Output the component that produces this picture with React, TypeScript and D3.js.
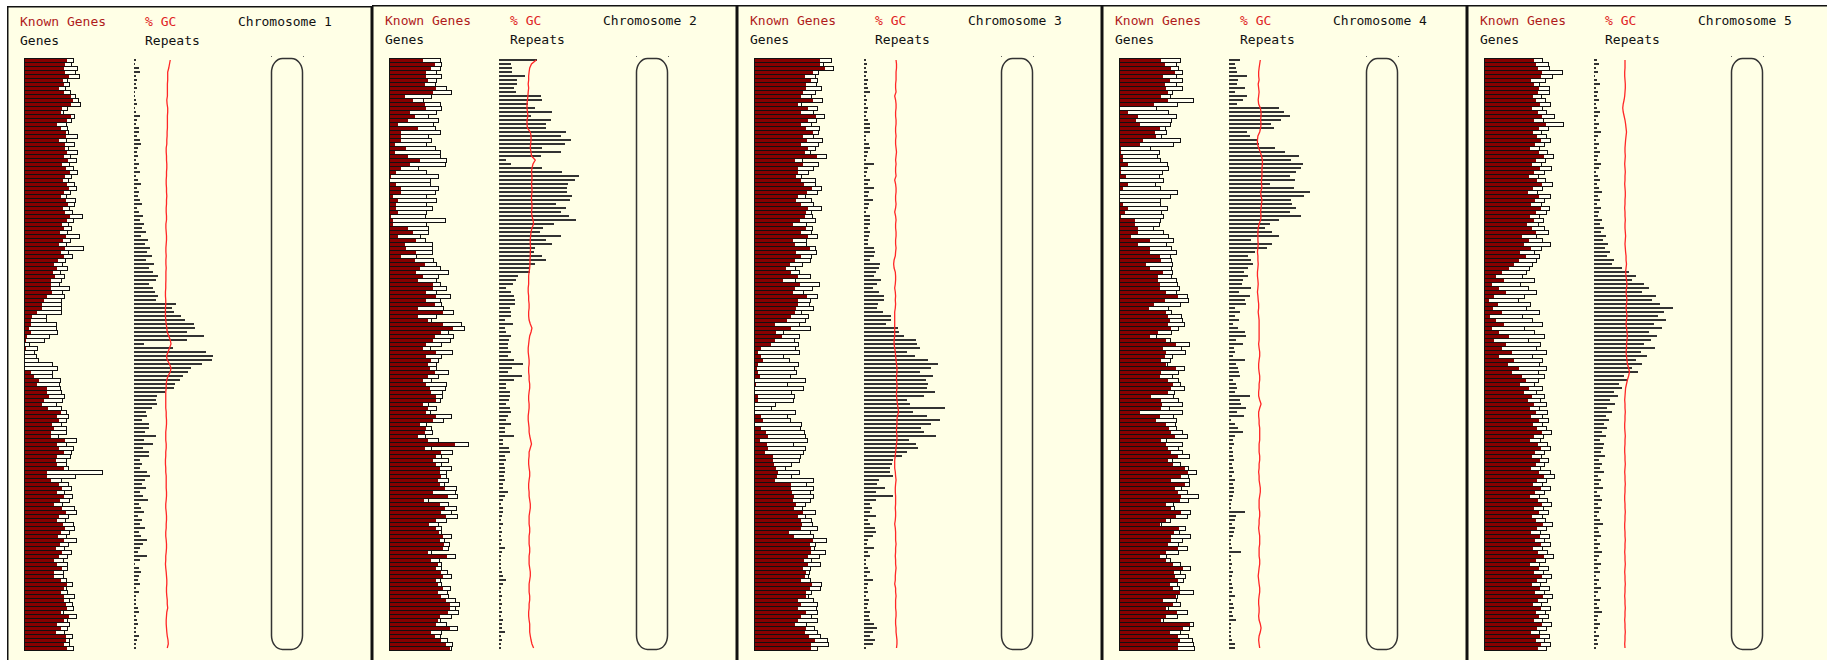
import React from 'react';
import * as d3 from 'd3';

// chromosome names
const chromosomes = ['Chromosome 1', 'Chromosome 2', 'Chromosome 3', 'Chromosome 4', 'Chromosome 5'];

// known genes per bin (red part) / all genes per bin (whole bar)
const known1 = [43,41,40,41,45,39,40,35,40,47,49,47,38,37,47,43,33,37,42,42,35,41,41,43,
  40,44,38,42,46,41,39,43,45,40,37,42,44,39,41,46,43,38,40,36,42,39,35,41,37,40,34,30,33,29,31,27,
  27,27,28,23,20,18,18,13,8,7,7,5,7,3,2,0,2,1,1,1,1,1,7,10,15,13,23,23,25,20,18,24,37,33,35,28,30,27,27,41,33,35,40,33,32,33,40,23,23,27,
  35,38,33,40,36,30,38,42,35,33,39,41,37,34,40,36,32,38,35,30,
  33,38,30,30,37,43,40,37,40,40,42,43,37,45,40,33,37,32,42,42,40,43];
const genes1 = [49,47,53,51,55,43,45,41,46,51,54,56,43,39,50,47,42,43,44,53,42,50,44,53,
  46,52,45,49,53,47,44,50,52,46,42,51,50,45,48,58,49,44,47,43,55,46,42,59,44,48,41,38,43,36,40,37,
  35,45,38,40,37,37,37,37,22,22,32,32,33,25,20,5,13,10,12,14,28,33,28,28,36,35,36,37,40,38,32,37,42,44,42,37,42,42,34,52,42,49,47,46,42,42,44,78,51,37,
  44,47,40,48,45,38,50,52,44,41,49,50,45,42,52,44,40,47,43,39,
  43,43,39,39,42,48,42,43,50,45,48,49,39,52,43,45,43,40,48,45,45,49];
const repeats1 = [2,1,5,6,2,3,2,3,1,1,2,3,1,2,6,3,2,5,5,3,6,7,4,3,
  4,2,5,3,6,2,4,7,3,5,4,6,8,3,5,9,6,10,8,12,7,14,11,16,13,18,12,20,15,19,24,22,
  15,19,21,24,22,42,38,40,47,51,60,61,53,70,53,10,39,72,79,78,68,57,54,49,46,41,40,31,23,22,23,18,12,13,8,15,15,11,22,10,19,9,15,15,6,8,6,13,16,11,
  8,12,6,9,14,5,7,10,4,8,6,11,5,7,13,9,6,4,13,6,
  1,5,7,5,4,6,2,5,2,2,2,4,5,2,3,4,2,2,5,3,2,2];
const gc1 = [43.5,43,42.5,41.8,41.8,41.8,41.6,41.6,41.6,41.6,41.2,41.4,41.8,41.8,41.6,41.6,41.6,41.6,41.4,41.4,41.2,41.2,40.8,40.8,
  41,41,41.2,41.2,41,41,40.8,40.8,41,41,41.2,41,41,40.8,40.8,41,41,40.6,40.6,40.8,41,41,40.8,40.6,40.6,40.8,40.6,40.6,40.8,40.6,40.6,40.6,
  40.5,40.5,40.3,40.3,40.5,40.5,40.3,40.3,40.3,40.5,40.8,41.2,41.5,42.5,43.5,44,43,42,41,41.5,43,44,43.5,42,41.2,40.8,40.8,40.5,40.5,40.5,40.5,40.5,40.8,40.8,41,41,40.8,40.5,40.5,40.5,40.8,40.8,40.5,40.5,40.3,40.3,40.5,40.5,40.8,40.8,
  40.8,40.8,41,41,40.8,40.5,40.5,40.8,41,41,40.8,40.8,40.5,40.5,40.8,41,41,40.8,40.5,40.5,
  40.3,40.5,40.8,41,41.2,41.2,41,41,41.2,41.5,41.5,41.8,41.2,41,40.8,40.8,41,41.2,41.5,42,42.2,41.5];

const known2 = [34,46,42,37,37,39,36,47,44,16,24,36,37,21,26,19,9,29,12,12,12,6,17,6,19,31,21,12,7,2,
  1,7,12,12,4,9,7,7,9,2,4,4,19,24,9,27,16,17,27,12,26,36,31,27,34,29,44,44,37,47,
  37,46,29,54,29,39,54,64,52,46,44,37,34,47,37,42,39,41,46,39,34,37,41,42,47,47,34,39,37,47,
  44,31,37,36,29,39,66,36,52,47,44,47,51,51,52,49,51,56,44,59,35,51,56,52,57,47,40,47,50,54,
  51,55,54,39,58,42,49,47,52,54,47,49,54,49,52,57,61,61,59,51,49,47,61,42,46,52,57,61];
const genes2 = [51,52,51,47,52,47,46,57,62,42,34,51,52,47,39,49,44,46,51,39,42,37,46,51,51,57,56,29,37,49,
  41,41,49,46,37,47,37,43,37,36,56,37,39,39,31,36,43,43,43,27,44,47,51,59,49,47,51,57,47,61,
  51,52,54,64,47,42,72,75,59,64,61,52,41,63,52,49,47,47,59,49,42,57,56,53,53,51,39,47,41,62,
  54,37,42,43,36,49,79,42,63,52,59,52,62,57,57,59,55,67,66,68,39,59,67,62,68,57,49,52,52,62,
  55,60,59,42,66,50,52,52,58,62,51,52,61,58,59,66,70,66,69,62,51,57,68,52,51,58,63,62];
const repeats2 = [38,12,13,13,26,18,18,15,17,42,43,29,36,53,32,52,47,47,67,62,72,66,43,62,42,7,12,43,63,80,
  76,69,68,68,73,71,57,67,62,70,77,55,44,41,62,47,53,36,35,43,47,36,31,31,19,17,14,7,12,15,
  16,16,11,12,12,6,14,6,7,12,10,9,9,12,9,15,24,13,9,23,15,7,7,11,11,10,7,11,12,9,
  7,12,6,6,15,4,4,10,11,6,7,5,6,6,5,6,4,4,9,6,4,2,4,4,3,2,4,2,3,2,
  3,2,6,3,2,2,2,2,3,4,7,4,2,2,3,2,3,2,3,2,4,3,3,6,2,3,2,2];
const gc2 = [44.2,41,39.8,39.4,39.1,39.1,38.8,39.1,38.8,38.6,38.3,38,38,38.3,38.6,38,38,38.3,40.2,40.7,
  40.7,40.4,40.2,40.7,41,43.5,42,41.3,41,41.3,41.3,41,41.3,41.3,41,41,41.3,41.3,41,41.3,
  42,42.4,41.3,40.7,40.4,40.2,40.2,40.4,40.2,40.2,40,40,39.8,39.4,39.1,39.1,39.1,38.8,38.8,39.1,
  39.1,39.4,39.4,39.1,39.1,39.4,40.2,41.3,40.7,39.8,39.4,39.1,38.8,38.8,39.1,39.4,39.4,39.1,39.1,39.4,
  39.4,39.8,39.8,39.4,39.1,39.1,39.4,39.4,39.1,38.8,38.8,39.1,39.4,39.4,39.8,40.4,41,40.2,39.4,39.4,
  39.1,39.1,39.4,39.8,39.8,39.4,39.1,39.1,39.4,39.4,39.8,40.2,40.2,39.8,39.4,39.4,39.4,39.8,39.8,39.4,
  39.4,39.4,39.8,39.8,39.4,39.4,39.4,39.8,40.2,40.2,39.8,39.4,39.4,39.4,39.8,39.8,39.4,39.4,39.1,39.1,
  39.4,39.8,39.8,39.8,40.2,40.7,41.3,42.4];

const known3 = [66,66,71,59,51,57,52,52,49,47,59,44,54,47,62,54,47,52,59,49,53,47,54,51,63,41,49,44,44,42,
  47,50,58,53,44,42,47,54,52,51,46,39,52,47,54,39,41,56,42,47,41,36,32,37,44,29,46,41,39,53,
  44,44,42,41,37,33,21,37,22,28,21,17,7,4,7,9,4,3,4,6,1,2,1,0,4,4,0,0,0,7,
  9,1,7,12,14,6,13,14,11,19,19,20,22,24,23,21,37,37,38,40,39,42,40,49,44,47,48,47,35,40,
  59,56,57,57,54,50,54,49,52,51,47,58,56,52,52,44,47,44,52,47,44,41,52,51,55,61,57,57];
const genes3 = [77,69,79,64,61,63,62,67,61,57,68,47,63,59,70,62,57,65,64,59,68,64,61,56,72,48,64,59,54,47,
  61,61,67,63,51,57,59,67,57,58,61,52,58,57,63,52,52,61,62,57,56,48,41,45,56,41,65,58,49,63,
  56,55,59,47,54,51,45,56,29,45,40,44,41,45,29,35,44,40,42,36,51,33,49,37,40,39,21,17,41,33,
  36,47,46,50,51,53,39,51,49,46,45,37,31,45,37,59,52,59,56,59,56,51,48,61,51,57,58,63,56,59,
  72,61,60,71,65,57,66,56,55,54,56,67,66,57,54,59,63,62,63,57,63,52,60,63,66,73,74,63];
const repeats3 = [2,3,2,3,2,4,3,4,6,2,3,2,4,3,2,4,6,6,6,2,2,5,6,4,3,2,10,4,3,2,
  6,4,10,5,4,9,5,4,2,6,6,6,4,6,5,4,4,10,11,10,6,16,15,12,10,17,13,9,15,20,
  20,14,13,19,27,27,22,34,35,40,52,53,56,43,51,64,74,67,56,69,62,64,63,71,60,43,46,81,49,63,
  76,67,57,60,72,45,52,54,43,38,29,28,26,26,29,15,13,21,12,29,12,6,8,6,12,4,6,11,12,9,
  4,3,10,4,6,2,2,4,6,3,9,4,3,4,2,5,4,3,6,5,6,10,13,9,6,11,9,2];
const gc3 = [40.7,41,41,40.7,40.7,40.7,40.4,40.4,40.7,39.8,40.4,40.7,40.7,40.4,40.4,40.7,40.7,40.4,40.4,40.7,
  40.4,40.4,40.7,41,40.7,40.4,40.7,40.4,40.4,40.7,39.8,40.4,40.7,40.7,40.4,40.4,40.7,40.4,39.8,40.4,
  40.7,40.4,40.4,40.7,40.7,40.4,40.4,40.7,40.4,40.2,39.4,39.1,39.4,40.2,40.4,40.4,40.2,39.8,40.2,40.4,
  40.2,40.4,40.2,39.8,39.8,39.8,39.8,39.8,39.8,39.8,39.4,39.4,39.8,40.2,40.4,40.7,41,41.3,41.3,41,
  41,41.3,41.3,41,41,41.3,41.6,42,42.4,41.6,41.3,41.3,41,41,41.3,41.3,41,40.7,40.4,40.2,
  39.8,39.8,39.8,40.2,40.4,40.7,40.4,40.2,40.2,40.4,40.4,40.4,40.2,40.4,40.4,40.2,39.8,40.2,40.4,40.4,
  40.4,40.7,40.4,40.4,40.2,40.4,40.4,40.7,40.4,40.2,40.2,39.8,40.4,40.4,40.7,40.4,40.4,40.4,40.7,40.7,
  40.4,40.4,40.7,40.7,41,41.3,41.3,41];

const known4 = [42,46,52,56,44,51,46,47,49,42,49,35,1,9,19,17,21,41,36,37,24,21,2,2,4,4,9,2,2,7,
  1,9,4,1,1,1,4,9,6,2,16,16,19,19,12,31,19,31,31,41,42,27,31,44,39,39,41,41,47,59,
  46,35,30,47,49,51,49,52,39,31,47,57,44,47,46,42,47,57,42,41,49,54,52,49,32,42,43,42,21,41,
  37,47,50,52,56,42,47,49,52,59,49,54,66,69,62,52,66,56,59,62,61,47,52,62,57,47,41,60,55,52,
  52,49,59,47,41,47,54,64,55,56,59,51,54,61,57,44,54,47,58,47,42,71,64,51,59,61,59,59];
const genes4 = [61,57,59,63,57,63,57,63,53,51,74,58,37,49,57,52,51,46,47,42,61,54,31,40,38,41,48,49,43,40,
  44,36,41,58,51,41,41,48,42,44,41,40,34,44,49,54,47,52,57,51,52,53,52,53,52,57,58,60,57,68,
  69,61,49,52,62,63,65,59,52,37,51,70,62,66,53,51,48,65,59,53,59,61,65,55,54,59,63,50,63,54,
  57,56,57,63,68,47,63,59,63,70,53,61,69,77,69,70,70,62,68,79,69,54,55,71,68,51,42,66,60,71,
  63,59,68,59,47,51,61,71,61,66,64,58,60,74,58,57,61,49,68,58,44,74,70,61,69,73,74,75];
const repeats4 = [11,6,7,8,18,9,8,16,6,18,14,8,50,55,61,52,42,45,18,21,29,30,46,56,70,62,74,72,67,61,
  66,41,65,81,75,62,63,67,61,72,50,41,36,43,50,22,43,38,26,19,22,24,19,15,19,14,13,22,10,21,
  16,17,6,11,6,10,4,9,16,17,7,14,5,6,4,16,7,9,10,11,4,7,8,6,21,11,12,17,8,15,
  2,6,9,14,6,4,5,3,4,4,5,3,4,5,3,6,4,5,5,4,3,2,2,16,7,6,3,6,5,4,
  2,2,3,12,2,2,3,2,4,3,2,3,4,3,6,2,4,5,3,4,7,2,2,2,2,3,6,6];
const gc4 = [40.2,39.8,39.4,39.1,39.1,39.4,38.8,39.1,39.4,39.1,38.8,39.1,40.2,40.7,40.7,40.4,40.7,40.4,39.8,38.6,
  38.3,38.3,39.1,40.2,41,41.6,41.6,41.3,41.3,41.3,41,41,41.3,40.4,40.7,41.3,41,40.7,40.4,40.7,
  40.4,39.4,38.8,38.6,38.6,38.6,38.8,38.6,38.3,38.6,38.6,38.8,38.6,38.3,38.3,38.6,38.8,38.6,38.3,38.6,
  38.8,39.1,39.1,38.8,39.1,39.4,39.4,39.4,39.4,39.4,39.4,39.1,39.4,39.8,39.8,39.4,39.1,39.1,39.4,39.8,
  39.8,39.4,39.4,39.1,39.1,39.8,40.7,39.8,39.1,39.1,39.4,39.4,39.8,39.8,39.8,39.8,39.4,39.4,39.4,39.8,
  39.8,39.4,39.4,39.1,39.4,39.4,39.8,40.2,40.2,39.8,39.4,39.4,39.4,39.8,39.8,39.4,39.4,39.1,39.4,39.8,
  39.8,39.8,39.4,39.4,39.4,39.8,39.8,39.4,39.1,38.8,39.1,39.4,39.8,39.8,39.4,39.1,39.1,39.4,39.4,39.1,
  39.4,40.2,40.7,40.2,39.4,39.1,39.4,39.8];

const known5 = [50,52,54,58,57,47,50,55,54,49,52,56,48,54,58,50,62,55,49,53,57,51,46,55,60,52,48,56,50,45,
  53,58,49,44,55,51,47,57,52,46,50,43,48,52,38,45,40,47,36,42,35,30,25,18,12,20,8,15,22,10,
  5,14,9,18,6,12,20,8,15,25,10,22,18,28,15,30,24,35,28,38,42,36,45,40,48,44,50,46,52,47,
  55,49,53,58,50,46,54,57,51,48,56,52,47,55,60,53,49,57,51,46,54,58,50,55,48,52,59,53,47,56,
  51,57,49,54,60,52,46,55,50,58,53,48,56,51,59,54,49,57,52,55,50,58,53,47,56,52,57,54];
const genes5 = [58,64,65,78,68,61,55,65,65,57,61,66,58,62,70,59,79,64,57,62,66,60,55,63,69,61,57,67,60,54,
  61,68,58,53,66,60,57,65,62,55,59,54,60,64,52,58,66,57,50,55,52,48,45,42,38,50,36,44,52,40,
  34,46,42,55,38,48,58,40,50,60,44,56,52,62,48,58,55,62,54,60,54,50,58,52,60,56,62,55,63,58,
  64,58,62,67,59,56,63,66,60,57,64,60,56,66,70,62,58,66,60,55,63,67,59,64,58,61,68,62,56,65,
  60,66,58,63,69,61,55,64,59,67,62,56,65,60,68,63,57,66,61,64,58,67,62,55,65,60,66,62];
const repeats5 = [3,5,2,4,1,3,6,2,4,3,5,2,3,6,4,2,5,3,7,4,2,5,3,6,4,3,7,5,2,4,
  6,3,5,8,4,6,3,7,5,4,8,6,10,7,12,9,14,11,16,13,20,18,28,35,42,38,50,55,48,62,
  58,66,79,70,64,72,60,68,55,63,57,50,61,47,53,42,48,38,44,30,34,25,28,20,24,16,21,13,18,12,
  15,10,13,8,12,6,10,9,7,11,5,8,6,10,4,7,5,9,3,6,8,4,7,5,3,6,9,4,5,7,
  3,6,4,8,5,3,7,4,6,2,5,3,7,4,2,6,3,5,8,4,3,6,4,2,5,3,4,2];
const gc5 = [40,40,40,39.8,39.8,40,40.2,40.2,40,39.8,39.4,38.8,38.5,38.8,39.4,40,40.4,40.7,41,40.7,
  40.4,40.2,40,40,40.2,40,39.8,40,40.2,40,40,39.8,40,40.2,40.2,40,40,39.8,40,40,
  40.2,40,40,40.2,40.4,40.2,40,40.2,40.4,40.7,40.7,41,40.7,40.4,40.7,41,41.3,41,40.7,41,
  41.3,41,40.7,41,41.3,41,40.7,41,41.3,41.6,41.3,41,41,40.7,41,41.3,41.6,42.4,43,42.4,
  41.6,41,40.4,40.2,40,39.8,40,40,40.2,40,40,39.8,39.8,40,40.2,40,40,39.8,39.8,40,
  40,40.2,40,39.8,40,40,40.2,40,40,39.8,39.8,40,40,40.2,40,40,39.8,39.8,40,40,
  40.2,40,40,39.8,40,40,40.2,40,39.8,40,40,40.2,40,40,39.8,40,40,40.2,40,40,
  39.8,40,40,40.2,40,40,39.8,40];

const knownSeries = [known1, known2, known3, known4, known5];
const geneSeries = [genes1, genes2, genes3, genes4, genes5];
const repeatSeries = [repeats1, repeats2, repeats3, repeats4, repeats5];
const gcSeries = [gc1, gc2, gc3, gc4, gc5];

const W = 1827;
const H = 660;
const PANEL_W = 365;
const ROWS = 148;
const TOP = 58;
const ROW_H = 4;
const FONT = '"DejaVu Sans Mono", "Liberation Mono", monospace';

// scales
const rowY = d3.scaleLinear().domain([0, ROWS]).range([TOP, TOP + ROWS * ROW_H]);
const geneX = d3.scaleLinear().domain([0, 80]).range([0, 80]);
const repeatX = d3.scaleLinear().domain([0, 80]).range([0, 80]);
const gcX = d3.scaleLinear().domain([36, 44]).range([152, 164]);

const Panel = ({ idx }: { idx: number }) => {
  const x0 = 7 + idx * PANEL_W;
  const dy = idx === 0 ? 1 : 0;
  const known = knownSeries[idx];
  const genes = geneSeries[idx];
  const reps = repeatSeries[idx];
  const gc = gcSeries[idx];
  const gx = x0 + 17;
  const rx = x0 + 127;

  const gcLine = d3.line<number>()
    .x(v => x0 + gcX(v))
    .y((_, i) => rowY(i) + 2);

  return (
    <g>
      <rect x={x0 + 0.75} y={5.75 + dy} width={PANEL_W - 1.5} height={H} fill="#ffffe6" stroke="#111" strokeWidth={1.5} />
      <g fontFamily={FONT} fontSize={13}>
        <text x={x0 + 13} y={25 + dy} fill="#b01c1c">Known Genes</text>
        <text x={x0 + 13} y={44 + dy} fill="#111">Genes</text>
        <text x={x0 + 138} y={25 + dy} fill="#e02424">% GC</text>
        <text x={x0 + 138} y={44 + dy} fill="#111">Repeats</text>
        <text x={x0 + 231} y={25 + dy} fill="#111">{chromosomes[idx]}</text>
      </g>

      <g shapeRendering="crispEdges">
        {genes.map((t, i) => (
          <rect key={'f' + i} x={gx} y={rowY(i)} width={geneX(t)} height={ROW_H} fill="#fffff2" />
        ))}
        {known.map((k, i) => (
          <rect key={'k' + i} x={gx} y={rowY(i)} width={geneX(k)} height={ROW_H} fill="#880000" />
        ))}
        {genes.map((t, i) => (
          <rect key={'o' + i} x={gx + 0.5} y={rowY(i) + 0.5} width={geneX(t)} height={ROW_H} fill="none" stroke="#111" strokeWidth={1} />
        ))}
        {reps.map((r, i) => (
          <rect key={'r' + i} x={rx} y={rowY(i) + 1} width={repeatX(r)} height={2} fill="#333" />
        ))}
      </g>

      <path d={gcLine(gc) || ''} fill="none" stroke="#ff2626" strokeWidth={1.3} />

      <rect x={x0 + 264.5} y={TOP + 0.5} width={31} height={ROWS * ROW_H - 1} rx={11} ry={14} fill="none" stroke="#333" strokeWidth={1.5} />
      <rect x={x0 + 264} y={TOP - 2} width={1} height={1} fill="#666" />
      <rect x={x0 + 296} y={TOP - 2} width={1} height={1} fill="#666" />
    </g>
  );
};

export default function App() {
  return (
    <div style={{ position: 'absolute', left: 0, top: 0 }}>
      <svg width={W} height={H} style={{ display: 'block', background: '#fff' }}>
        {chromosomes.map((_, i) => <Panel key={i} idx={i} />)}
      </svg>
    </div>
  );
}
